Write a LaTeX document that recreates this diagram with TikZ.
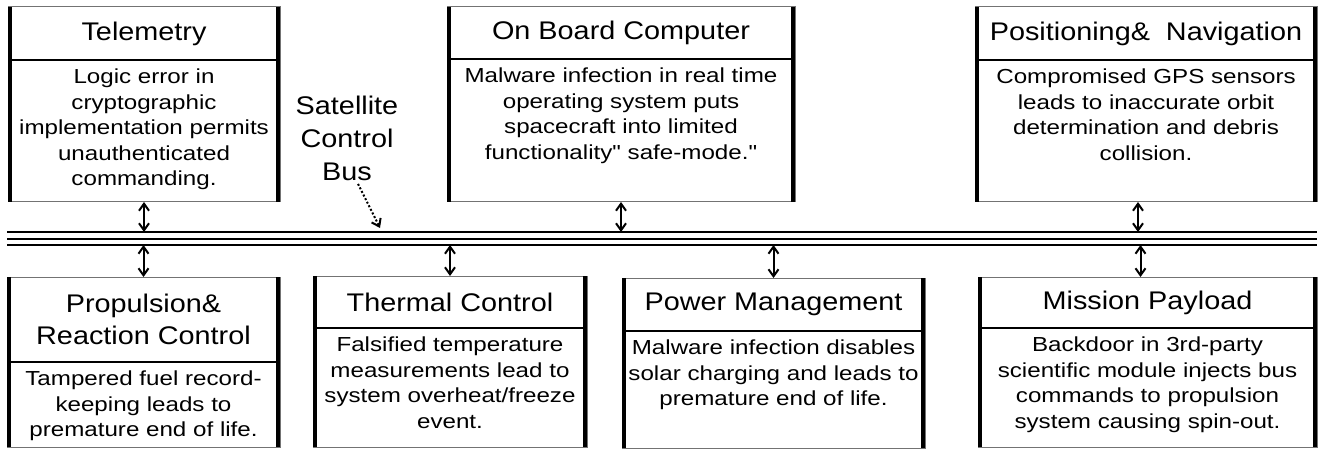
\documentclass[tikz,border=0pt]{standalone}
\usepackage{fontspec}
\setmainfont{Liberation Sans}
\newfontfamily\titlefont[FakeStretch=1.13]{Liberation Sans}
\newfontfamily\bodyfont[FakeStretch=1.19]{Liberation Sans}
\usepackage{tikz}
\usetikzlibrary{calc,arrows.meta}

\tikzset{
  frame/.style={draw=black!55, line width=1pt, inner sep=0pt, outer sep=0pt},
  titlebox/.style={anchor=north, inner sep=0pt, outer sep=0pt, align=center,
    font=\titlefont\fontsize{25.5}{32}\selectfont},
  bodytext/.style={anchor=north, inner xsep=0pt, inner ysep=9pt, outer sep=0pt,
    align=center, font=\bodyfont\fontsize{20.3}{25.5}\selectfont},
  side/.style={line width=4.5pt},
  divider/.style={line width=1.5pt},
  busline/.style={line width=2pt},
  link/.style={line width=2pt,
    {Straight Barb[length=7pt,width=10pt]}-{Straight Barb[length=7pt,width=10pt]}},
  pointer/.style={line width=2pt, dotted, -{Straight Barb[length=7pt,width=10pt]}}
}

\begin{document}
\begin{tikzpicture}[x=1pt,y=-1pt]
  \useasboundingbox (0,0) rectangle (1319,449);

  % Upper subsystems
  \node[frame, minimum width=272pt, minimum height=195pt] (tel) at (144,104.5) {};
  \node[titlebox, minimum width=272pt, minimum height=53pt] (tel-t) at (tel.north) {Telemetry};
  \node[bodytext] (tel-b) at (tel-t.south) {Logic error in\\cryptographic\\implementation permits\\unauthenticated\\commanding.};

  \node[frame, minimum width=348pt, minimum height=195pt] (obc) at (621,104.5) {};
  \node[titlebox, minimum width=348pt, minimum height=52pt] (obc-t) at (obc.north) {On Board Computer};
  \node[bodytext] (obc-b) at (obc-t.south) {Malware infection in real time\\operating system puts\\spacecraft into limited\\functionality\symbol{34} safe-mode.\symbol{34}};

  \node[frame, minimum width=342pt, minimum height=195pt] (pn) at (1146,104.5) {};
  \node[titlebox, minimum width=342pt, minimum height=53pt] (pn-t) at (pn.north) {Positioning\& \ Navigation};
  \node[bodytext] (pn-b) at (pn-t.south) {Compromised GPS sensors\\leads to inaccurate orbit\\determination and debris\\collision.};

  % Lower subsystems
  \node[frame, minimum width=273pt, minimum height=170pt] (prop) at (143.5,362) {};
  \node[titlebox, minimum width=273pt, minimum height=85pt] (prop-t) at (prop.north) {Propulsion\&\\Reaction Control};
  \node[bodytext] (prop-b) at (prop-t.south) {Tampered fuel record-\\keeping leads to\\premature end of life.};

  \node[frame, minimum width=274pt, minimum height=171pt] (therm) at (450,361.5) {};
  \node[titlebox, minimum width=274pt, minimum height=52pt] (therm-t) at (therm.north) {Thermal Control};
  \node[bodytext] (therm-b) at (therm-t.south) {Falsified temperature\\measurements lead to\\system overheat/freeze\\event.};

  \node[frame, minimum width=303pt, minimum height=170pt] (pwr) at (773.5,363) {};
  \node[titlebox, minimum width=303pt, minimum height=53pt] (pwr-t) at (pwr.north) {Power Management};
  \node[bodytext] (pwr-b) at (pwr-t.south) {Malware infection disables\\solar charging and leads to\\premature end of life.};

  \node[frame, minimum width=339pt, minimum height=170pt] (pay) at (1147.5,362) {};
  \node[titlebox, minimum width=339pt, minimum height=51pt] (pay-t) at (pay.north) {Mission Payload};
  \node[bodytext] (pay-b) at (pay-t.south) {Backdoor in 3rd-party\\scientific module injects bus\\commands to propulsion\\system causing spin-out.};

  % Thick sides and title dividers
  \foreach \n in {tel,obc,pn,prop,therm,pwr,pay} {
    \draw[side] ([xshift=2pt]\n.north west) -- ([xshift=2pt]\n.south west);
    \draw[side] ([xshift=-2pt]\n.north east) -- ([xshift=-2pt]\n.south east);
    \draw[divider] (\n-t.south west) -- (\n-t.south east);
  }

  % Bus
  \coordinate (busW) at (7,232);
  \coordinate (busE) at (1317,232);
  \coordinate (busS) at (7,245);
  \foreach \dy in {0,6.5,13}
    \draw[busline] ([yshift=-\dy pt]busW) -- ([yshift=-\dy pt]busE);

  \node[align=center, font=\titlefont\fontsize{25.5}{33}\selectfont] (scb) at (347,138) {Satellite\\Control\\Bus};
  \coordinate (scb-tip) at (380,228);
  \draw[pointer] ([xshift=11pt]scb.south) -- (scb-tip);

  % Links to the bus
  \draw[link] (tel.south) -- (tel.south |- busW);
  \draw[link] (obc.south) -- (obc.south |- busW);
  \draw[link] ([xshift=-8pt]pn.south) -- ([xshift=-8pt]pn.south |- busW);
  \draw[link] (prop.north |- busS) -- (prop.north);
  \draw[link] (therm.north |- busS) -- (therm.north);
  \draw[link] (pwr.north |- busS) -- (pwr.north);
  \draw[link] ([xshift=-7pt]pay.north |- busS) -- ([xshift=-7pt]pay.north);
\end{tikzpicture}
\end{document}
